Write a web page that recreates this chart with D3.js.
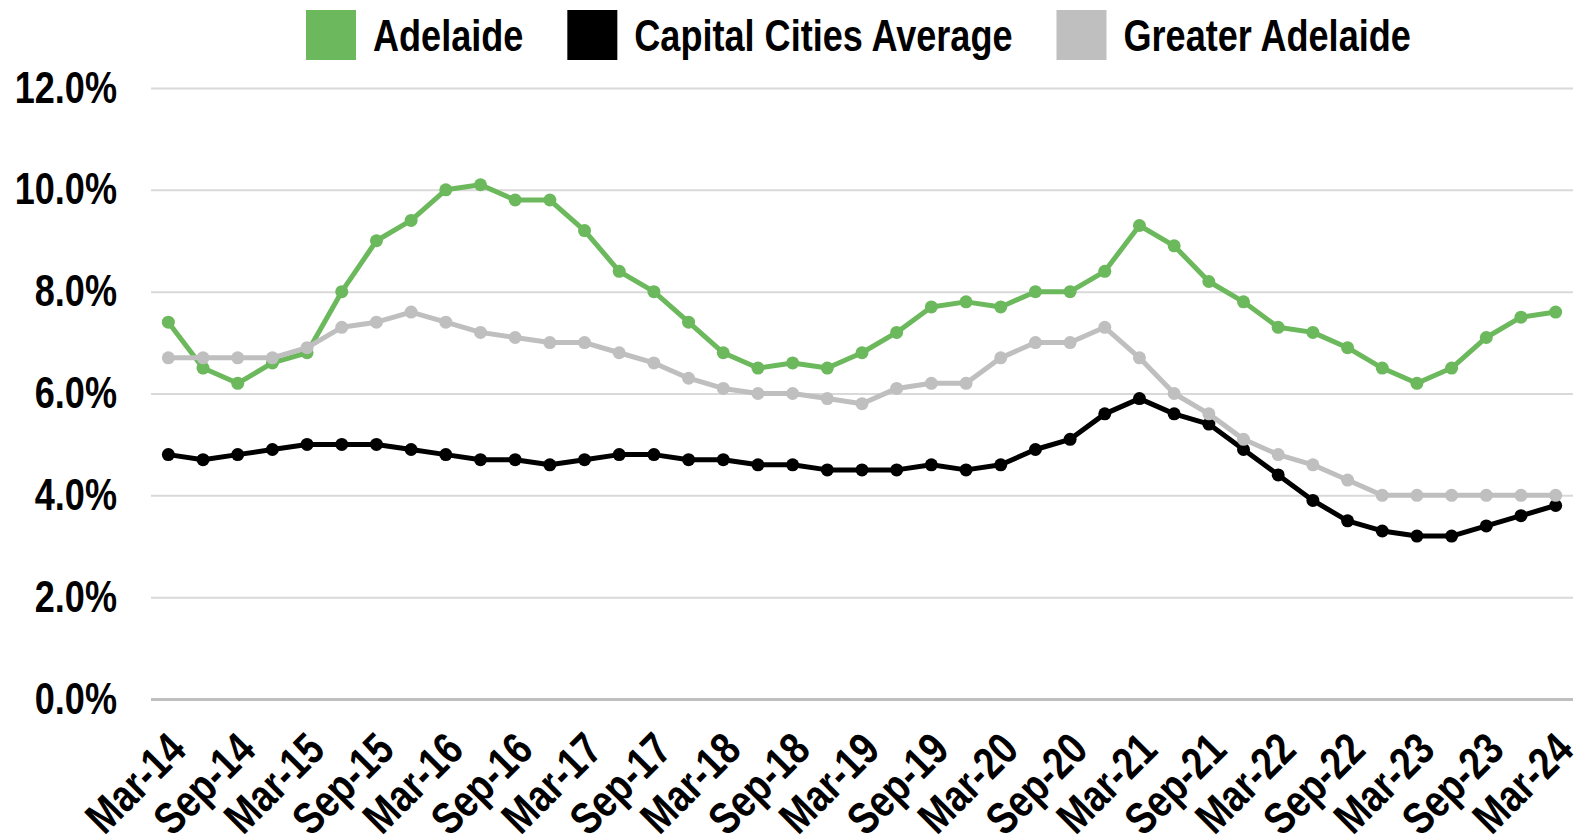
<!DOCTYPE html>
<html>
<head>
<meta charset="utf-8">
<script src="https://cdn.jsdelivr.net/npm/d3@7"></script>
<style>
  html, body { margin: 0; padding: 0; background: #fff; }
  svg { display: block; font-family: "Liberation Sans", Arial, sans-serif; font-weight: bold; }
</style>
</head>
<body>
<div id="chart"></div>
<script>
const quarters = [
  'Mar-14', 'Jun-14', 'Sep-14', 'Dec-14', 'Mar-15', 'Jun-15', 'Sep-15', 'Dec-15',
  'Mar-16', 'Jun-16', 'Sep-16', 'Dec-16', 'Mar-17', 'Jun-17', 'Sep-17', 'Dec-17',
  'Mar-18', 'Jun-18', 'Sep-18', 'Dec-18', 'Mar-19', 'Jun-19', 'Sep-19', 'Dec-19',
  'Mar-20', 'Jun-20', 'Sep-20', 'Dec-20', 'Mar-21', 'Jun-21', 'Sep-21', 'Dec-21',
  'Mar-22', 'Jun-22', 'Sep-22', 'Dec-22', 'Mar-23', 'Jun-23', 'Sep-23', 'Dec-23',
  'Mar-24'
];

const adelaide = [
  7.4, 6.5, 6.2, 6.6, 6.8, 8.0, 9.0, 9.4, 10.0, 10.1,
  9.8, 9.8, 9.2, 8.4, 8.0, 7.4, 6.8, 6.5, 6.6, 6.5,
  6.8, 7.2, 7.7, 7.8, 7.7, 8.0, 8.0, 8.4, 9.3, 8.9,
  8.2, 7.8, 7.3, 7.2, 6.9, 6.5, 6.2, 6.5, 7.1, 7.5, 7.6
];
const capitalAverage = [
  4.8, 4.7, 4.8, 4.9, 5.0, 5.0, 5.0, 4.9, 4.8, 4.7,
  4.7, 4.6, 4.7, 4.8, 4.8, 4.7, 4.7, 4.6, 4.6, 4.5,
  4.5, 4.5, 4.6, 4.5, 4.6, 4.9, 5.1, 5.6, 5.9, 5.6,
  5.4, 4.9, 4.4, 3.9, 3.5, 3.3, 3.2, 3.2, 3.4, 3.6, 3.8
];
const greaterAdelaide = [
  6.7, 6.7, 6.7, 6.7, 6.9, 7.3, 7.4, 7.6, 7.4, 7.2,
  7.1, 7.0, 7.0, 6.8, 6.6, 6.3, 6.1, 6.0, 6.0, 5.9,
  5.8, 6.1, 6.2, 6.2, 6.7, 7.0, 7.0, 7.3, 6.7, 6.0,
  5.6, 5.1, 4.8, 4.6, 4.3, 4.0, 4.0, 4.0, 4.0, 4.0, 4.0
];

const yTicks = [0, 2, 4, 6, 8, 10, 12];
const xTickLabels = quarters.filter((q, i) => i % 2 === 0);

const series = [
  { name: 'Adelaide', values: adelaide, color: '#6cb85c' },
  { name: 'Capital Cities Average', values: capitalAverage, color: '#000000' },
  { name: 'Greater Adelaide', values: greaterAdelaide, color: '#bfbfbf' }
];

const width = 1578;
const height = 836;
const margin = { left: 151, right: 5, top: 88, bottom: 137 };
const narrow = 0.82;   // no narrow font installed, squeeze Liberation Sans instead
const fontSize = '44px';

const svg = d3.select('#chart')
  .append('svg')
    .attr('width', width)
    .attr('height', height);

const x = d3.scaleBand()
  .domain(quarters)
  .range([margin.left, width - margin.right]);
const cx = q => x(q) + x.bandwidth() / 2;

const y = d3.scaleLinear()
  .domain([0, 12])
  .range([height - margin.bottom, margin.top]);

// gridlines + y labels
const yAxis = svg.append('g')
  .attr('transform', `translate(${margin.left},0)`)
  .call(d3.axisLeft(y)
    .tickValues(yTicks)
    .tickSize(-(width - margin.left - margin.right))
    .tickFormat(d => d3.format('.1%')(d / 100)));
yAxis.select('.domain').remove();
yAxis.selectAll('.tick line')
  .attr('stroke', d => d === 0 ? '#bfbfbf' : '#d9d9d9')
  .attr('stroke-width', d => d === 0 ? 3 : 2);
yAxis.selectAll('.tick text')
  .attr('x', 0)
  .attr('fill', '#000')
  .attr('transform', `translate(-34,0) scale(${narrow},1)`)
  .style('font-size', fontSize)
  .style('font-weight', 'bold')
  .style('font-family', null);

// x labels
const xAxis = svg.append('g')
  .attr('transform', `translate(0,${y(0)})`)
  .call(d3.axisBottom(x).tickValues(xTickLabels).tickSize(0));
xAxis.select('.domain').remove();
xAxis.selectAll('.tick text')
  .attr('x', 0)
  .attr('y', 0)
  .attr('dy', null)
  .attr('fill', '#000')
  .attr('text-anchor', 'end')
  .attr('transform', `translate(20,53) rotate(-45) scale(${narrow},1)`)
  .style('font-size', '45px')
  .style('font-weight', 'bold')
  .style('font-family', null);

// lines
const line = d3.line()
  .x((d, i) => cx(quarters[i]))
  .y(d => y(d));

series.forEach(s => {
  const g = svg.append('g');
  g.append('path')
    .datum(s.values)
    .attr('fill', 'none')
    .attr('stroke', s.color)
    .attr('stroke-width', 5)
    .attr('stroke-linejoin', 'round')
    .attr('d', line);
  g.selectAll('circle')
    .data(s.values)
    .enter()
    .append('circle')
      .attr('cx', (d, i) => cx(quarters[i]))
      .attr('cy', d => y(d))
      .attr('r', 6.5)
      .attr('fill', s.color);
});

// legend
const legend = svg.append('g')
  .attr('transform', 'translate(306,10)');
let lx = 0;
series.forEach(s => {
  const item = legend.append('g').attr('transform', `translate(${lx},0)`);
  item.append('rect')
    .attr('width', 50)
    .attr('height', 50)
    .attr('fill', s.color);
  const t = item.append('text')
    .attr('transform', `translate(67,25) scale(${narrow},1)`)
    .attr('dy', '0.36em')
    .style('font-size', fontSize)
    .text(s.name);
  lx += 67 + t.node().getComputedTextLength() * narrow + 44;
});
</script>
</body>
</html>
